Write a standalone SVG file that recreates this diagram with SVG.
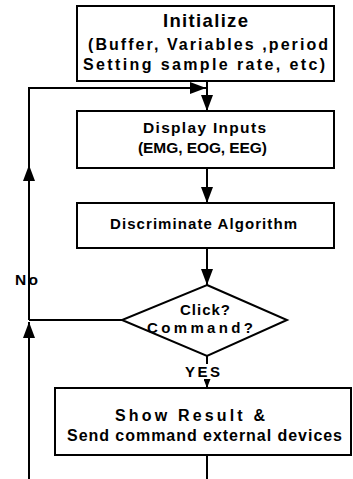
<svg xmlns="http://www.w3.org/2000/svg" width="353" height="479" viewBox="0 0 353 479">
<style>
.box{fill:#fff;stroke:#000;stroke-width:2}
.ln{fill:none;stroke:#000;stroke-width:2}
text{font-family:"Liberation Sans",Arial,sans-serif;font-weight:bold;fill:#000}
</style>
<defs>
<marker id="ah" markerUnits="userSpaceOnUse" markerWidth="16" markerHeight="12" viewBox="0 0 16 12" refX="16" refY="6" orient="auto">
<path d="M0,0 L16,6 L0,12 Z" fill="#000"/>
</marker>
<marker id="ahs" markerUnits="userSpaceOnUse" markerWidth="9" markerHeight="7" viewBox="0 0 9 7" refX="9" refY="3.5" orient="auto">
<path d="M0,0 L9,3.5 L0,7 Z" fill="#000"/>
</marker>
</defs>
<rect width="353" height="479" fill="#fff"/>
<g id="connectors">
<path class="ln" d="M207,81 V111" marker-end="url(#ah)"/>
<path class="ln" d="M29,167 V88 H206" marker-end="url(#ah)"/>
<path class="ln" d="M29,320 V165" marker-end="url(#ah)"/>
<path class="ln" d="M29,479 V322" marker-end="url(#ah)"/>
<path class="ln" d="M122,320 H29"/>
<path class="ln" d="M207,168 V203" marker-end="url(#ah)"/>
<path class="ln" d="M207,248 V285" marker-end="url(#ah)"/>
<path class="ln" d="M207,356 V364"/>
<path class="ln" d="M207,379 V388" marker-end="url(#ahs)"/>
<path class="ln" d="M207,455 V479"/>
<text x="15" y="285" font-size="15.5" textLength="23" lengthAdjust="spacing">No</text>
<text x="185" y="377" font-size="15" textLength="35" lengthAdjust="spacing">YES</text>
</g>
<g id="initialize">
<rect class="box" x="77" y="6" width="257" height="75"/>
<text x="163" y="27" font-size="18.5" textLength="85" lengthAdjust="spacing">Initialize</text>
<text x="88" y="50" font-size="16" textLength="240" lengthAdjust="spacing">(Buffer, Variables ,period</text>
<text x="83" y="70" font-size="16" textLength="242" lengthAdjust="spacing">Setting sample rate, etc)</text>
</g>
<g id="display">
<rect class="box" x="77" y="111" width="257" height="57"/>
<text x="143" y="133" font-size="15.5" textLength="123" lengthAdjust="spacing">Display Inputs</text>
<text x="138" y="153" font-size="15.5" textLength="129" lengthAdjust="spacing">(EMG, EOG, EEG)</text>
</g>
<g id="discriminate">
<rect class="box" x="77" y="203" width="257" height="45"/>
<text x="110" y="229" font-size="15" textLength="187" lengthAdjust="spacing">Discriminate Algorithm</text>
</g>
<g id="decision">
<path class="box" d="M207,285 L287,320 L207,356 L122,320 Z"/>
<text x="180" y="315" font-size="15" textLength="50" lengthAdjust="spacing">Click?</text>
<text x="147" y="333" font-size="15" textLength="106" lengthAdjust="spacing">Command?</text>
</g>
<g id="show">
<rect class="box" x="55" y="388" width="296" height="67"/>
<text x="115" y="421" font-size="16" textLength="150" lengthAdjust="spacing">Show Result &amp;</text>
<text x="67" y="441" font-size="16" textLength="275" lengthAdjust="spacing">Send command external devices</text>
</g>
</svg>
